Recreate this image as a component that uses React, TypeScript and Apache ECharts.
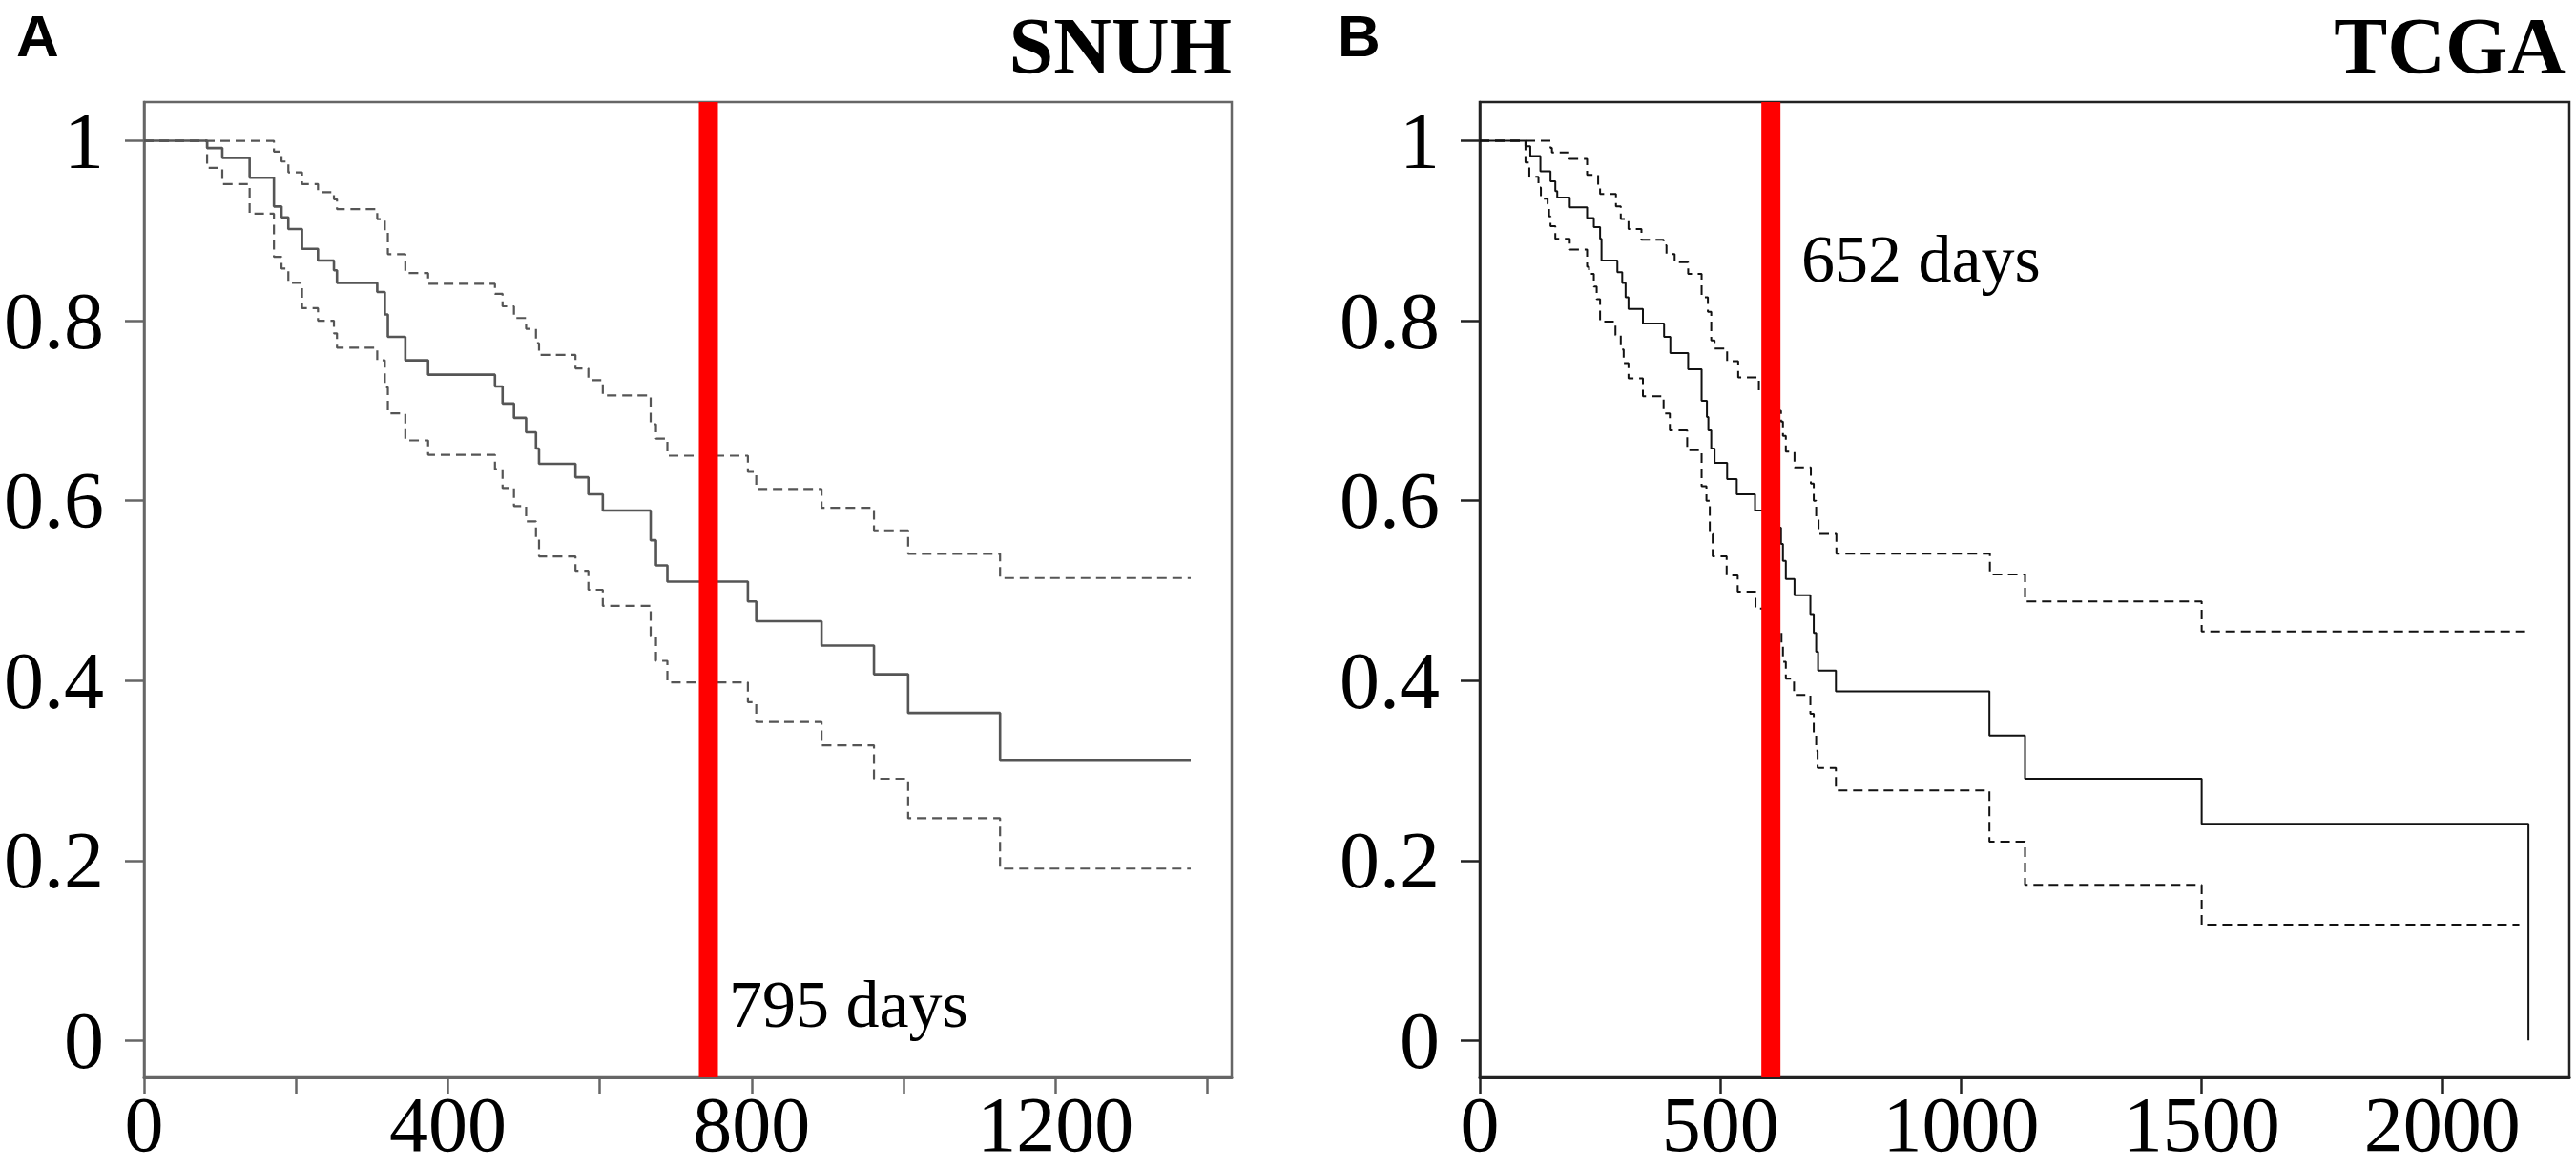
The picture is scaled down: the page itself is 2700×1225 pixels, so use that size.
import React, { useEffect, useRef } from "react";
import * as echarts from "echarts";

// ---------- SNUH (panel A) ----------
const snuhTimes = [0, 83, 103, 139, 171, 181, 190, 208, 229, 250, 254, 307, 317, 321, 344, 374, 462, 472, 487, 503, 516, 520, 568, 585, 604, 667, 674, 689, 795, 806, 892, 961, 1006, 1127, 1378];
const snuhSurv = [1, 0.992, 0.981, 0.959, 0.927, 0.915, 0.902, 0.88, 0.867, 0.856, 0.842, 0.832, 0.807, 0.782, 0.756, 0.74, 0.727, 0.708, 0.692, 0.676, 0.658, 0.641, 0.626, 0.607, 0.589, 0.556, 0.528, 0.51, 0.488, 0.466, 0.439, 0.407, 0.364, 0.312, 0.312];
const snuhUpper = [1, 1, 1, 1, 0.988, 0.977, 0.965, 0.952, 0.943, 0.935, 0.924, 0.913, 0.899, 0.874, 0.853, 0.841, 0.83, 0.816, 0.803, 0.791, 0.775, 0.762, 0.747, 0.734, 0.717, 0.685, 0.669, 0.65, 0.632, 0.613, 0.592, 0.567, 0.541, 0.514, 0.514];
const snuhLower = [1, 0.97, 0.952, 0.919, 0.871, 0.858, 0.842, 0.814, 0.8, 0.786, 0.77, 0.756, 0.726, 0.697, 0.667, 0.651, 0.635, 0.614, 0.594, 0.577, 0.557, 0.538, 0.522, 0.501, 0.483, 0.45, 0.422, 0.398, 0.376, 0.354, 0.328, 0.291, 0.247, 0.191, 0.191];
const snuhCutoffDay = 743;
const snuhCutoffLabel = "795 days";
const snuhXTicks = [0, 200, 400, 600, 800, 1000, 1200, 1400];
const snuhXLabels = [0, 400, 800, 1200];
const snuhXMax = 1432;

// ---------- TCGA (panel B) ----------
const tcgaSurvTimes = [0, 95, 105, 126, 147, 157, 161, 187, 223, 237, 250, 253, 286, 296, 303, 309, 339, 383, 396, 433, 461, 472, 475, 481, 488, 514, 534, 572, 600, 626, 630, 636, 654, 687, 694, 699, 703, 740, 1059, 1133, 1500, 2179, 2179];
const tcgaSurv = [1, 0.994, 0.983, 0.966, 0.955, 0.944, 0.937, 0.926, 0.914, 0.904, 0.891, 0.867, 0.854, 0.842, 0.826, 0.813, 0.797, 0.782, 0.764, 0.746, 0.711, 0.693, 0.678, 0.658, 0.642, 0.624, 0.607, 0.589, 0.57, 0.552, 0.533, 0.513, 0.495, 0.474, 0.453, 0.432, 0.411, 0.388, 0.339, 0.291, 0.241, 0.241, 0];
const tcgaUpperTimes = [0, 147, 150, 186, 223, 246, 250, 283, 293, 309, 336, 382, 388, 405, 433, 461, 474, 481, 488, 514, 537, 580, 605, 626, 630, 636, 654, 688, 694, 699, 704, 741, 1060, 1133, 1500, 2172];
const tcgaUpper = [1, 0.992, 0.987, 0.98, 0.962, 0.951, 0.941, 0.927, 0.913, 0.902, 0.89, 0.884, 0.874, 0.865, 0.852, 0.826, 0.81, 0.778, 0.769, 0.755, 0.737, 0.722, 0.7, 0.688, 0.672, 0.6545, 0.637, 0.619, 0.6, 0.582, 0.563, 0.541, 0.518, 0.488, 0.4545, 0.4545];
const tcgaLowerTimes = [0, 95, 103, 122, 127, 141, 144, 147, 157, 187, 223, 227, 237, 243, 250, 282, 293, 299, 309, 339, 382, 395, 431, 461, 471, 478, 484, 513, 536, 573, 600, 627, 630, 636, 653, 687, 694, 699, 702, 740, 1059, 1133, 1500, 2160];
const tcgaLower = [1, 0.976, 0.96, 0.948, 0.9355, 0.93, 0.916, 0.905, 0.891, 0.879, 0.86, 0.852, 0.838, 0.824, 0.799, 0.784, 0.768, 0.753, 0.736, 0.716, 0.697, 0.678, 0.656, 0.616, 0.6, 0.563, 0.538, 0.517, 0.499, 0.48, 0.455, 0.439, 0.421, 0.402, 0.384, 0.363, 0.34, 0.322, 0.303, 0.278, 0.221, 0.173, 0.1286, 0.1286];
const tcgaCutoffDay = 605;
const tcgaCutoffLabel = "652 days";
const tcgaXTicks = [0, 500, 1000, 1500, 2000];
const tcgaXLabels = [0, 500, 1000, 1500, 2000];
const tcgaXMax = 2264;

// ---------- shared y axis ----------
const yTicks = [0, 0.2, 0.4, 0.6, 0.8, 1];
const Y_MIN = -0.041;
const Y_MAX = 1.043;

const SERIF = '"Liberation Serif", "Times New Roman", serif';
const SANS = '"Liberation Sans", Arial, sans-serif';

const zip = (t: number[], v: number[]) => t.map((x, i) => [x, v[i]]);

function makeAxes(gridIndex: number, xMax: number, xTicks: number[], xLabels: number[], boxColor: string) {
  const fmt = (v: number) => String(v);
  const xAxis = {
    gridIndex,
    type: "value",
    min: 0,
    max: xMax,
    axisLine: { show: true, onZero: false, lineStyle: { color: boxColor, width: 3 } },
    axisTick: { show: true, inside: false, length: 17, customValues: xTicks, lineStyle: { color: boxColor, width: 2.5 } },
    axisLabel: { show: true, customValues: xLabels, formatter: fmt, fontFamily: SERIF, fontSize: 82, lineHeight: 64, color: "#000", margin: 17 },
    splitLine: { show: false },
  };
  const yAxis = {
    gridIndex,
    type: "value",
    min: Y_MIN,
    max: Y_MAX,
    axisLine: { show: true, onZero: false, lineStyle: { color: boxColor, width: 2.5 } },
    axisTick: { show: true, inside: false, length: 20, customValues: yTicks, lineStyle: { color: boxColor, width: 2.5 } },
    axisLabel: { show: true, customValues: yTicks, formatter: fmt, fontFamily: SERIF, fontSize: 84, lineHeight: 64, color: "#000", margin: 42 },
    splitLine: { show: false },
  };
  return { xAxis, yAxis };
}

function stepSeries(idx: number, data: number[][], color: string, width: number, dashed: boolean) {
  return {
    type: "line",
    xAxisIndex: idx,
    yAxisIndex: idx,
    data,
    step: "end",
    symbol: "none",
    showSymbol: false,
    silent: true,
    lineStyle: { color, width, type: dashed ? [10, 6] : "solid" },
    z: 2,
  };
}

function cutoffSeries(idx: number, day: number, width: number) {
  return {
    type: "line",
    xAxisIndex: idx,
    yAxisIndex: idx,
    data: [
      [day, Y_MAX],
      [day, Y_MIN],
    ],
    symbol: "none",
    showSymbol: false,
    silent: true,
    lineStyle: { color: "#ff0000", width, cap: "butt" },
    z: 5,
  };
}

function textEl(text: string, x: number, y: number, size: number, family: string, weight: string, align: string) {
  return {
    type: "text",
    silent: true,
    z: 10,
    style: {
      text,
      x,
      y,
      fontSize: size,
      fontFamily: family,
      fontWeight: weight,
      lineHeight: Math.round(size * 0.72),
      fill: "#000",
      align,
      textAlign: align,
      verticalAlign: "middle",
      textVerticalAlign: "middle",
    },
  };
}

export default function App() {
  const ref = useRef<HTMLDivElement>(null);

  useEffect(() => {
    if (!ref.current) return;
    const chart = echarts.init(ref.current, undefined, { renderer: "svg" });
    const a = makeAxes(0, snuhXMax, snuhXTicks, snuhXLabels, "#666");
    const b = makeAxes(1, tcgaXMax, tcgaXTicks, tcgaXLabels, "#222");
    const snuhGray = "#555";
    const tcgaBlack = "#111";
    chart.setOption({
      animation: false,
      backgroundColor: "#fff",
      grid: [
        { left: 151, top: 107, width: 1140, height: 1022, show: true, borderColor: "#666", borderWidth: 2.5, backgroundColor: "transparent" },
        { left: 1551, top: 107, width: 1142, height: 1022, show: true, borderColor: "#222", borderWidth: 2.5, backgroundColor: "transparent" },
      ],
      xAxis: [a.xAxis, b.xAxis],
      yAxis: [a.yAxis, b.yAxis],
      series: [
        stepSeries(0, zip(snuhTimes, snuhSurv), snuhGray, 2.6, false),
        stepSeries(0, zip(snuhTimes, snuhUpper), snuhGray, 2.2, true),
        stepSeries(0, zip(snuhTimes, snuhLower), snuhGray, 2.2, true),
        cutoffSeries(0, snuhCutoffDay, 20),
        stepSeries(1, zip(tcgaSurvTimes, tcgaSurv), tcgaBlack, 2, false),
        stepSeries(1, zip(tcgaUpperTimes, tcgaUpper), tcgaBlack, 2, true),
        stepSeries(1, zip(tcgaLowerTimes, tcgaLower), tcgaBlack, 2, true),
        cutoffSeries(1, tcgaCutoffDay, 20),
      ],
      graphic: [
        textEl("A", 17, 37, 62, SANS, "bold", "left"),
        textEl("SNUH", 1291, 48, 84, SERIF, "bold", "right"),
        textEl("B", 1402, 37, 62, SANS, "bold", "left"),
        textEl("TCGA", 2689, 48, 84, SERIF, "bold", "right"),
        textEl(snuhCutoffLabel, 764, 1052, 70, SERIF, "normal", "left"),
        textEl(tcgaCutoffLabel, 1888, 271, 70, SERIF, "normal", "left"),
      ],
    });
    return () => chart.dispose();
  }, []);

  return <div ref={ref} style={{ position: "absolute", left: 0, top: 0, width: 2700, height: 1225, background: "#fff" }} />;
}
